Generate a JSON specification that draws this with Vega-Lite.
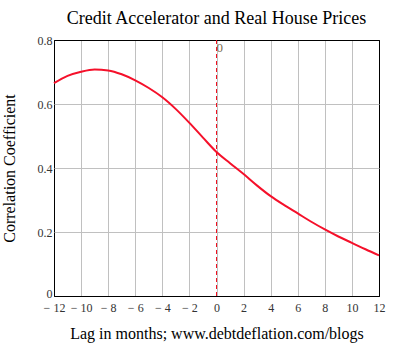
{
  "$schema": "https://vega.github.io/schema/vega-lite/v6.json",
  "autosize": "none",
  "width": 325,
  "height": 256,
  "padding": {"left": 54, "top": 40, "right": 28, "bottom": 55},
  "background": "white",
  "config": {
    "font": "Liberation Serif",
    "view": {"stroke": "black", "strokeWidth": 1},
    "axis": {"grid": true, "gridWidth": 1, "domain": false, "ticks": false, "labelOverlap": false, "labelFlush": false, "labelFont": "Liberation Serif", "labelFontSize": 12, "labelColor": "#333", "titleFont": "Liberation Serif", "titleFontSize": 16, "titleFontWeight": "normal", "titleColor": "black"}
  },
  "title": {"text": "Credit Accelerator and Real House Prices", "font": "Liberation Serif", "fontSize": 18, "fontWeight": "normal", "color": "black", "offset": 6},
  "datasets": {
    "curve": [
      {"lag": -12, "r": 0.665},
      {"lag": -11, "r": 0.688},
      {"lag": -10, "r": 0.701},
      {"lag": -9, "r": 0.708},
      {"lag": -8, "r": 0.705},
      {"lag": -7, "r": 0.693},
      {"lag": -6, "r": 0.674},
      {"lag": -5, "r": 0.650},
      {"lag": -4, "r": 0.621},
      {"lag": -3, "r": 0.584},
      {"lag": -2, "r": 0.541},
      {"lag": -1, "r": 0.495},
      {"lag": 0, "r": 0.450},
      {"lag": 1, "r": 0.415},
      {"lag": 2, "r": 0.381},
      {"lag": 3, "r": 0.345},
      {"lag": 4, "r": 0.312},
      {"lag": 5, "r": 0.284},
      {"lag": 6, "r": 0.258},
      {"lag": 7, "r": 0.232},
      {"lag": 8, "r": 0.208},
      {"lag": 9, "r": 0.186},
      {"lag": 10, "r": 0.166},
      {"lag": 11, "r": 0.146},
      {"lag": 12, "r": 0.127}
    ],
    "marker": [{"lag": 0, "r": 0.8, "label": "0"}]
  },
  "layer": [
    {
      "data": {"name": "curve"},
      "mark": {"type": "line", "color": "#f5102a", "strokeWidth": 2, "interpolate": "monotone"},
      "encoding": {
        "x": {"field": "lag", "type": "quantitative", "scale": {"domain": [-12, 12], "nice": false, "zero": false},
          "axis": {"values": [-12, -10, -8, -6, -4, -2, 0, 2, 4, 6, 8, 10, 12], "labelOverlap": false, "labelBound": false,
            "gridColor": {"condition": {"test": "datum.value == -12 || datum.value == 12", "value": "black"}, "value": "#c0c0c0"},
            "labelExpr": "datum.value < 0 ? '\u2212 ' + (-datum.value) : '' + datum.value", "labelPadding": 6, "title": "Lag in months; www.debtdeflation.com/blogs", "titlePadding": 12}},
        "y": {"field": "r", "type": "quantitative", "scale": {"domain": [0, 0.8], "nice": false},
          "axis": {"values": [0, 0.2, 0.4, 0.6, 0.8], "labelOverlap": false,
            "labelOffset": {"condition": {"test": "datum.value == 0", "value": -3}, "value": 0},
            "gridColor": {"condition": {"test": "datum.value == 0 || datum.value == 0.8", "value": "black"}, "value": "#c0c0c0"},
            "labelExpr": "datum.value == 0 ? '0' : format(datum.value, '.1f')", "labelPadding": 2, "title": "Correlation Coefficient", "titlePadding": 20}}
      }
    },
    {
      "data": {"name": "marker"},
      "mark": {"type": "rule", "color": "#f01020", "strokeWidth": 1, "strokeDash": [4, 3]},
      "encoding": {"x": {"field": "lag", "type": "quantitative",
          "axis": {"values": [-12, -10, -8, -6, -4, -2, 0, 2, 4, 6, 8, 10, 12], "labelOverlap": false, "labelBound": false,
            "gridColor": {"condition": {"test": "datum.value == -12 || datum.value == 12", "value": "black"}, "value": "#c0c0c0"},
            "labelExpr": "datum.value < 0 ? '\u2212 ' + (-datum.value) : '' + datum.value", "labelPadding": 6, "title": "Lag in months; www.debtdeflation.com/blogs", "titlePadding": 12}}}
    },
    {
      "data": {"name": "marker"},
      "mark": {"type": "text", "align": "left", "baseline": "top", "dx": 0, "dy": 2, "fontSize": 13, "color": "#7a6a50", "font": "Liberation Serif"},
      "encoding": {
        "x": {"field": "lag", "type": "quantitative",
          "axis": {"values": [-12, -10, -8, -6, -4, -2, 0, 2, 4, 6, 8, 10, 12], "labelOverlap": false, "labelBound": false,
            "gridColor": {"condition": {"test": "datum.value == -12 || datum.value == 12", "value": "black"}, "value": "#c0c0c0"},
            "labelExpr": "datum.value < 0 ? '\u2212 ' + (-datum.value) : '' + datum.value", "labelPadding": 6, "title": "Lag in months; www.debtdeflation.com/blogs", "titlePadding": 12}},
        "y": {"field": "r", "type": "quantitative",
          "axis": {"values": [0, 0.2, 0.4, 0.6, 0.8], "labelOverlap": false,
            "labelOffset": {"condition": {"test": "datum.value == 0", "value": -3}, "value": 0},
            "gridColor": {"condition": {"test": "datum.value == 0 || datum.value == 0.8", "value": "black"}, "value": "#c0c0c0"},
            "labelExpr": "datum.value == 0 ? '0' : format(datum.value, '.1f')", "labelPadding": 2, "title": "Correlation Coefficient", "titlePadding": 20}},
        "text": {"field": "label"}}
    }
  ]
}
